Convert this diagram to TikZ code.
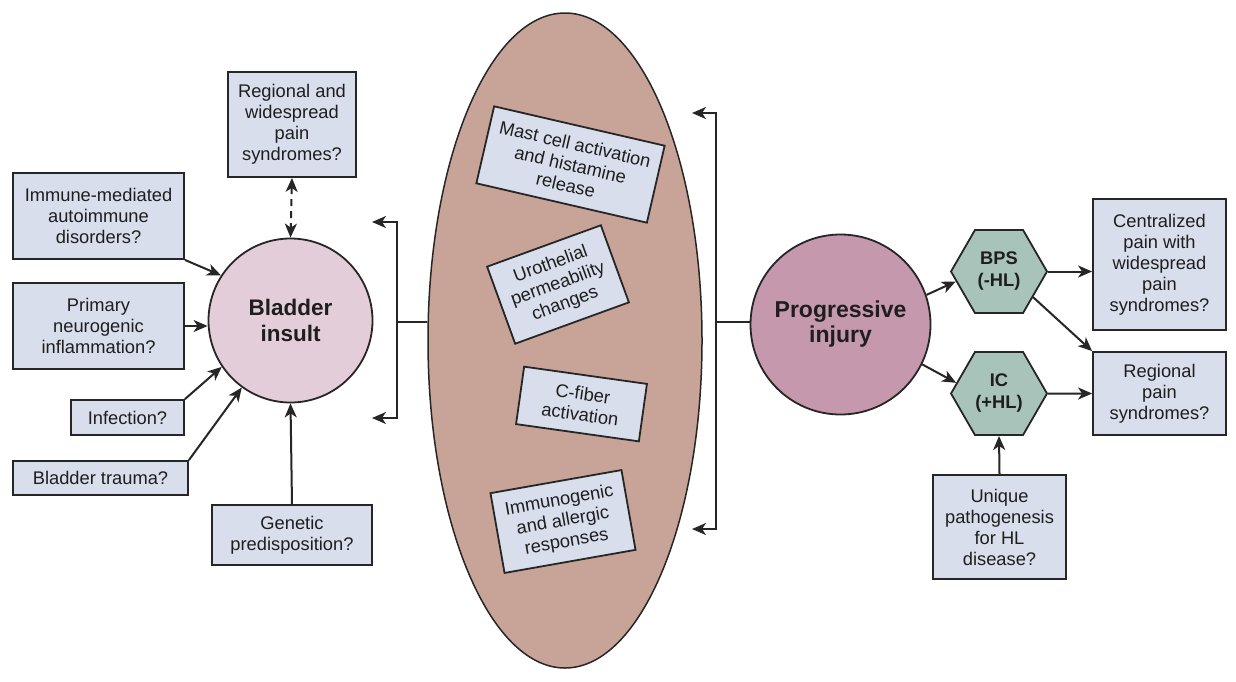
\documentclass[tikz,border=0pt]{standalone}
\usepackage{fontspec}
\setmainfont{Liberation Sans}
\usetikzlibrary{shapes.geometric,arrows.meta}
\definecolor{boxcol}{HTML}{D8DEEC}
\definecolor{pinkcol}{HTML}{E3CDD9}
\definecolor{ellcol}{HTML}{C8A498}
\definecolor{progcol}{HTML}{C598AD}
\definecolor{hexcol}{HTML}{A8C3BA}
\definecolor{linecol}{HTML}{262626}
\definecolor{textcol}{HTML}{1E1E1E}
\tikzset{
  box/.style={draw=linecol, line width=1.8pt, fill=boxcol, align=center, inner sep=2pt,
    font=\fontsize{18.3}{21}\selectfont, text=textcol},
  hexnode/.style={regular polygon, regular polygon sides=6, minimum size=96pt, inner sep=0pt,
    draw=linecol, line width=1.8pt, fill=hexcol, align=center,
    font=\bfseries\fontsize{18.3}{22}\selectfont, text=textcol},
  bigcircle/.style={circle, draw=linecol, line width=1.8pt, inner sep=0pt, align=center,
    text=textcol},
  tip/.tip={Stealth[length=14pt,width=12pt,inset=4pt]},
  conn/.style={draw=linecol, line width=2pt, -tip},
  conntwo/.style={draw=linecol, line width=2pt, tip-tip},
  plain/.style={draw=linecol, line width=2pt},
}
\begin{document}
\begin{tikzpicture}[x=1pt,y=-1pt]
\fill[white] (0,0) rectangle (1236,681);
\useasboundingbox (0,0) rectangle (1236,681);

% central ellipse
\node[ellipse, draw=linecol, line width=1.5pt, fill=ellcol, minimum width=274pt, minimum height=655pt, inner sep=0pt] (ell) at (565,340.5) {};

% rotated boxes inside ellipse
\node[box, rotate=-13, minimum width=175pt, minimum height=79pt] (mast) at (570.5,164.5) {Mast cell activation\\and histamine\\release};
\node[box, rotate=20, minimum width=121pt, minimum height=82pt] (uro) at (558,284.5) {Urothelial\\permeability\\changes};
\node[box, rotate=-8, minimum width=124pt, minimum height=58pt] (cfib) at (581.5,404) {C-fiber\\activation};
\node[box, rotate=10, minimum width=133pt, minimum height=81pt] (immg) at (563,521.5) {Immunogenic\\and allergic\\responses};

% left side
\node[bigcircle, fill=pinkcol, minimum size=164pt, font=\bfseries\fontsize{22.5}{26}\selectfont] (blad) at (290.5,320.5) {Bladder\\insult};
\node[box, minimum width=128pt, minimum height=105pt] (regw) at (292,124.5) {Regional and\\widespread\\pain\\syndromes?};
\node[box, minimum width=171pt, minimum height=86pt] (imm) at (98.5,216) {Immune-mediated\\autoimmune\\disorders?};
\node[box, minimum width=171pt, minimum height=86pt] (prim) at (98.5,326) {Primary\\neurogenic\\inflammation?};
\node[box, minimum width=113pt, minimum height=35pt] (inf) at (127.5,417.5) {Infection?};
\node[box, minimum width=175pt, minimum height=34pt] (trau) at (100.5,478) {Bladder trauma?};
\node[box, minimum width=160pt, minimum height=60pt] (gen) at (292,535) {Genetic\\predisposition?};

\draw[conntwo, dash pattern=on 7pt off 5pt] (regw.south) -- (blad.north);
\draw[conn] (imm.south east) -- (blad.147.7);
\draw[conn] (prim.east) -- (prim.east -| blad.west);
\draw[conn] (inf.north east) -- (blad.214.7);
\draw[conn] (trau.north east) -- (blad.234.9);
\draw[conn] (gen.north) -- (blad.south);

% left bracket
\coordinate (lt1) at (372,222);
\coordinate (lc1) at (397,222);
\coordinate (lc2) at (397,418);
\coordinate (lt2) at (372,418);
\coordinate (lcm) at (397,322);
\draw[conntwo] (lt1) -- (lc1) -- (lc2) -- (lt2);
\draw[plain] (lcm) -- (lcm -| ell.west);

% right side
\node[bigcircle, fill=progcol, minimum size=180pt, font=\bfseries\fontsize{23}{25}\selectfont] (prog) at (840.5,324.5) {Progressive\\injury};
\node[hexnode] (bps) at (999,271.5) {BPS\\(-HL)};
\node[hexnode] (ic) at (999,393.5) {IC\\(+HL)};
\node[box, minimum width=133pt, minimum height=131pt] (cent) at (1159.5,264.5) {Centralized\\pain with\\widespread\\pain\\syndromes?};
\node[box, minimum width=133pt, minimum height=83pt] (regp) at (1159.5,393.5) {Regional\\pain\\syndromes?};
\node[box, minimum width=133pt, minimum height=104pt] (uniq) at (999.5,527) {Unique\\pathogenesis\\for HL\\disease?};

% right bracket
\coordinate (rt1) at (692,113);
\coordinate (rc1) at (716,113);
\coordinate (rc2) at (716,529);
\coordinate (rt2) at (692,529);
\coordinate (rcm) at (716,322);
\draw[conntwo] (rt1) -- (rc1) -- (rc2) -- (rt2);
\draw[plain] (rcm) -- (rcm -| prog.west);

\draw[conn] (prog.19) -- (bps.193);
\draw[conn] (prog.334.6) -- (ic.166);
\draw[conn] (bps.east) -- (bps.east -| cent.west);
\draw[conn] (bps.323.5) -- (regp.north west);
\draw[conn] (ic.east) -- (regp.west);
\draw[conn] (uniq.north) -- (ic.south);
\end{tikzpicture}
\end{document}
